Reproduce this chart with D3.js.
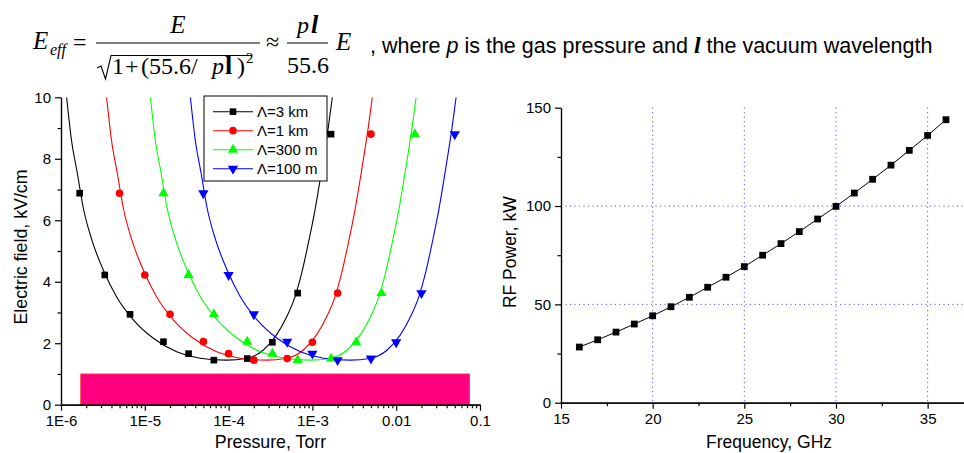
<!DOCTYPE html>
<html>
<head>
<meta charset="utf-8">
<script src="https://cdnjs.cloudflare.com/ajax/libs/d3/7.8.5/d3.min.js"></script>
<style>
  body { margin: 0; background: #fff; }
  svg { display: block; }
  .tick text { font-family: "Liberation Sans", Arial, sans-serif; font-size: 15px; fill: #000; }
</style>
</head>
<body>
<div id="chart"></div>
<script>
// ---- left panel data ----
let seriesNames = ["\u039b=3 km", "\u039b=1 km", "\u039b=300 m", "\u039b=100 m"];
let seriesColors = ["#000000", "#ff0000", "#00ff00", "#0000ff"];
let seriesWavelengthCm = [3e5, 1e5, 3e4, 1e4];
let pressure3km   = [1.67e-6, 3.33e-6, 6.67e-6, 1.67e-5, 3.33e-5, 6.67e-5, 1.67e-4, 3.33e-4, 6.67e-4, 1.67e-3];
let pressure1km   = [5e-6, 1e-5, 2e-5, 5e-5, 1e-4, 2e-4, 5e-4, 1e-3, 2e-3, 5e-3];
let pressure300m  = [1.67e-5, 3.33e-5, 6.67e-5, 1.67e-4, 3.33e-4, 6.67e-4, 1.67e-3, 3.33e-3, 6.67e-3, 1.67e-2];
let pressure100m  = [5e-5, 1e-4, 2e-4, 5e-4, 1e-3, 2e-3, 5e-3, 1e-2, 2e-2, 5e-2];
let fieldPoints   = [6.88, 4.22, 2.94, 2.05, 1.66, 1.45, 1.50, 2.03, 3.63, 8.80];
// fitted curve, as p*wavelength (Torr*cm) vs field
let fitPL    = [0.35, 0.40, 0.47, 0.55, 0.70, 0.96, 1.38, 2.19, 3.79, 7.2, 13.7, 28.4, 49.3, 78, 112, 148, 186, 223, 268, 322, 387, 465, 519];
let fitField = [10.0, 8.61, 7.53, 6.44, 5.36, 4.38, 3.51, 2.76, 2.16, 1.72, 1.51, 1.45, 1.51, 1.78, 2.27, 2.86, 3.51, 4.27, 5.25, 6.33, 7.63, 9.04, 10.0];
let bandPressure = [1.72e-6, 0.075];
let bandField = 1;
let pressureTicks = [1e-6, 1e-5, 1e-4, 1e-3, 1e-2, 1e-1];
let pressureTickLabels = ["1E-6", "1E-5", "1E-4", "1E-3", "0.01", "0.1"];

// ---- right panel data ----
let freqGHz = [16, 17, 18, 19, 20, 21, 22, 23, 24, 25, 26, 27, 28, 29, 30, 31, 32, 33, 34, 35, 36];
let powerKW = [28.3, 32.0, 35.9, 40.0, 44.2, 48.8, 53.6, 58.7, 63.8, 69.2, 75.0, 80.9, 87.0, 93.4, 99.8, 106.6, 113.6, 120.8, 128.3, 135.9, 143.9];

let sans = "'Liberation Sans', Arial, sans-serif";
let serif = "'Liberation Serif', 'Times New Roman', serif";

let svg = d3.select("#chart").append("svg")
    .attr("width", 964)
    .attr("height", 453);

// ================= formula header =================
let f = svg.append("g").style("font-family", serif).style("fill", "#000");

function put(x, y, size, txt, style, weight, anchor) {
    f.append("text")
        .attr("x", x).attr("y", y)
        .attr("text-anchor", anchor || "start")
        .style("font-size", size + "px")
        .style("font-style", style || "normal")
        .style("font-weight", weight || "normal")
        .text(txt);
}

put(33, 49, 25, "E", "italic");
put(50, 55, 16, "eff", "italic");
put(73, 50, 24, "=");
f.append("line").attr("x1", 96).attr("x2", 260).attr("y1", 43).attr("y2", 43)
    .style("stroke", "#000").style("stroke-width", 1.2);
put(178, 33, 25, "E", "italic", "normal", "middle");
f.append("path").attr("d", "M97,68 L101,66 L105.5,79 L111,55.5 L252,55.5")
    .style("fill", "none").style("stroke", "#000").style("stroke-width", 1.1);
put(112, 74, 24, "1");
put(125, 74, 24, "+");
put(141, 74, 24, "(55.6/");
put(212, 74, 24, "p", "italic");
put(225, 74, 26, "l", "normal", "bold");
put(237, 74, 24, ")");
put(246, 63, 15, "2");
put(266, 50, 24, "\u2248");
f.append("line").attr("x1", 287).attr("x2", 328).attr("y1", 43).attr("y2", 43)
    .style("stroke", "#000").style("stroke-width", 1.2);
put(297, 33, 24, "p", "italic");
put(311, 33, 26, "l", "italic", "bold");
put(308, 73, 24, "55.6", "normal", "normal", "middle");
put(336, 50, 25, "E", "italic");

let note = svg.append("text").attr("x", 370).attr("y", 53)
    .style("font-family", sans).style("font-size", "21.5px");
note.append("tspan").text(", where ");
note.append("tspan").style("font-style", "italic").text("p");
note.append("tspan").text(" is the gas pressure and ");
note.append("tspan").style("font-family", serif).style("font-weight", "bold").style("font-style", "italic").style("font-size", "24px").text("l");
note.append("tspan").text(" the vacuum wavelength");

// ================= left panel =================
let L = {left: 61, right: 480, top: 97.3, bottom: 404.7};
let xL = d3.scaleLog().domain([1e-6, 0.1]).range([L.left, L.right]);
let yL = d3.scaleLinear().domain([0, 10]).range([L.bottom, L.top]);

let gl = svg.append("g");

svg.append("defs").append("clipPath").attr("id", "clipL")
    .append("rect")
    .attr("x", L.left).attr("y", L.top)
    .attr("width", L.right - L.left).attr("height", L.bottom - L.top);

// pink band
gl.append("rect")
    .attr("x", xL(bandPressure[0]))
    .attr("y", yL(bandField))
    .attr("width", xL(bandPressure[1]) - xL(bandPressure[0]))
    .attr("height", yL(0) - yL(bandField))
    .style("fill", "#ff0080")
    .style("stroke", "#ff3030")
    .style("stroke-width", 0.8);

let pressures = [pressure3km, pressure1km, pressure300m, pressure100m];
let symbols = [d3.symbolSquare, d3.symbolCircle, d3.symbolTriangle, d3.symbolTriangle];
let symbolSizes = [44, 46, 46, 46];

let fitLine = d3.line()
    .x(function (d) { return xL(d[0]); })
    .y(function (d) { return yL(d[1]); })
    .curve(d3.curveMonotoneX);

for (let s = 0; s < seriesNames.length; s++) {
    let curve = fitPL.map(function (pl, i) { return [pl / seriesWavelengthCm[s], fitField[i]]; });
    gl.append("path")
        .datum(curve)
        .attr("clip-path", "url(#clipL)")
        .attr("d", fitLine)
        .style("fill", "none")
        .style("stroke", seriesColors[s])
        .style("stroke-width", 1.1);
}

for (let s = 0; s < seriesNames.length; s++) {
    let pts = pressures[s].map(function (p, i) { return [p, fieldPoints[i]]; });
    gl.selectAll()
        .data(pts)
        .enter()
        .append("path")
        .attr("d", d3.symbol().type(symbols[s]).size(symbolSizes[s]))
        .attr("transform", function (d) {
            return "translate(" + xL(d[0]) + "," + yL(d[1]) + ")" + (s === 3 ? " rotate(180)" : "");
        })
        .style("fill", seriesColors[s]);
}

// axes
let minorP = xL.ticks().filter(function (t) { return pressureTicks.indexOf(t) < 0; });
gl.append("g")
    .attr("transform", "translate(0," + L.bottom + ")")
    .call(d3.axisBottom(xL).tickValues(minorP).tickSize(3.5).tickSizeOuter(0).tickFormat(""));
gl.append("g")
    .attr("transform", "translate(0," + L.bottom + ")")
    .call(d3.axisBottom(xL).tickValues(pressureTicks).tickSize(6).tickSizeOuter(0).tickPadding(5)
        .tickFormat(function (d, i) { return pressureTickLabels[i]; }));
gl.append("g")
    .attr("transform", "translate(" + L.left + ",0)")
    .call(d3.axisLeft(yL).tickValues([1, 3, 5, 7, 9]).tickSize(3.5).tickSizeOuter(0).tickFormat(""));
gl.append("g")
    .attr("transform", "translate(" + L.left + ",0)")
    .call(d3.axisLeft(yL).tickValues([0, 2, 4, 6, 8, 10]).tickSize(6).tickSizeOuter(0).tickPadding(4));

gl.append("text")
    .attr("x", (L.left + L.right) / 2).attr("y", 448)
    .attr("text-anchor", "middle")
    .style("font-family", sans).style("font-size", "17.8px")
    .text("Pressure, Torr");
gl.append("text")
    .attr("transform", "translate(27," + ((L.top + L.bottom) / 2 - 4) + ") rotate(-90)")
    .attr("text-anchor", "middle")
    .style("font-family", sans).style("font-size", "17.8px")
    .text("Electric field, kV/cm");

// legend
let leg = gl.append("g").attr("transform", "translate(204,96)");
leg.append("rect")
    .attr("width", 123).attr("height", 85)
    .style("fill", "#fff").style("stroke", "#000").style("stroke-width", 1);
let rows = leg.selectAll()
    .data(seriesNames)
    .enter()
    .append("g")
    .attr("transform", function (d, i) { return "translate(0," + (15.7 + i * 19) + ")"; });
rows.append("line")
    .attr("x1", 9).attr("x2", 49)
    .style("stroke", function (d, i) { return seriesColors[i]; })
    .style("stroke-width", 1.1);
rows.append("path")
    .attr("d", function (d, i) { return d3.symbol().type(symbols[i]).size(symbolSizes[i])(); })
    .attr("transform", function (d, i) { return "translate(29,0)" + (i === 3 ? " rotate(180)" : ""); })
    .style("fill", function (d, i) { return seriesColors[i]; });
rows.append("text")
    .attr("x", 53).attr("y", 5.5)
    .style("font-family", sans).style("font-size", "15px")
    .text(function (d) { return d; });

// ================= right panel =================
let R = {left: 561, right: 964.3, top: 107.7, bottom: 402.7};
let xR = d3.scaleLinear().domain([15, 37]).range([R.left, R.right]);
let yR = d3.scaleLinear().domain([0, 150]).range([R.bottom, R.top]);

let gr = svg.append("g");

// dotted grid
gr.selectAll()
    .data([20, 25, 30, 35])
    .enter()
    .append("line")
    .attr("x1", function (d) { return xR(d); })
    .attr("x2", function (d) { return xR(d); })
    .attr("y1", yR(150)).attr("y2", yR(0))
    .style("stroke", "#3838ff").style("stroke-width", 1).style("stroke-dasharray", "1,3.5");
gr.selectAll()
    .data([50, 100])
    .enter()
    .append("line")
    .attr("x1", R.left).attr("x2", R.right)
    .attr("y1", function (d) { return yR(d); })
    .attr("y2", function (d) { return yR(d); })
    .style("stroke", "#3838ff").style("stroke-width", 1).style("stroke-dasharray", "1,3.5");

gr.append("path")
    .datum(freqGHz.map(function (f, i) { return [f, powerKW[i]]; }))
    .attr("d", d3.line()
        .x(function (d) { return xR(d[0]); })
        .y(function (d) { return yR(d[1]); }))
    .style("fill", "none").style("stroke", "#000").style("stroke-width", 1);

gr.selectAll()
    .data(freqGHz)
    .enter()
    .append("path")
    .attr("d", d3.symbol().type(d3.symbolSquare).size(46))
    .attr("transform", function (d, i) { return "translate(" + xR(d) + "," + yR(powerKW[i]) + ")"; })
    .style("fill", "#000");

gr.append("g")
    .attr("transform", "translate(0," + R.bottom + ")")
    .call(d3.axisBottom(xR).tickValues([17.5, 22.5, 27.5, 32.5]).tickSize(3.5).tickSizeOuter(0).tickFormat(""));
gr.append("g")
    .attr("transform", "translate(0," + R.bottom + ")")
    .call(d3.axisBottom(xR).tickValues([15, 20, 25, 30, 35]).tickSize(6).tickSizeOuter(0).tickPadding(5));
gr.append("g")
    .attr("transform", "translate(" + R.left + ",0)")
    .call(d3.axisLeft(yR).tickValues([25, 75, 125]).tickSize(3.5).tickSizeOuter(0).tickFormat(""));
gr.append("g")
    .attr("transform", "translate(" + R.left + ",0)")
    .call(d3.axisLeft(yR).tickValues([0, 50, 100, 150]).tickSize(6).tickSizeOuter(0).tickPadding(4));

gr.append("text")
    .attr("x", 769).attr("y", 448)
    .attr("text-anchor", "middle")
    .style("font-family", sans).style("font-size", "17.5px")
    .text("Frequency, GHz");
gr.append("text")
    .attr("transform", "translate(516," + ((R.top + R.bottom) / 2 - 3) + ") rotate(-90)")
    .attr("text-anchor", "middle")
    .style("font-family", sans).style("font-size", "17.5px")
    .text("RF Power, kW");

svg.selectAll(".domain, .tick line").style("stroke", "#000").style("stroke-width", 1.2);
</script>
</body>
</html>
